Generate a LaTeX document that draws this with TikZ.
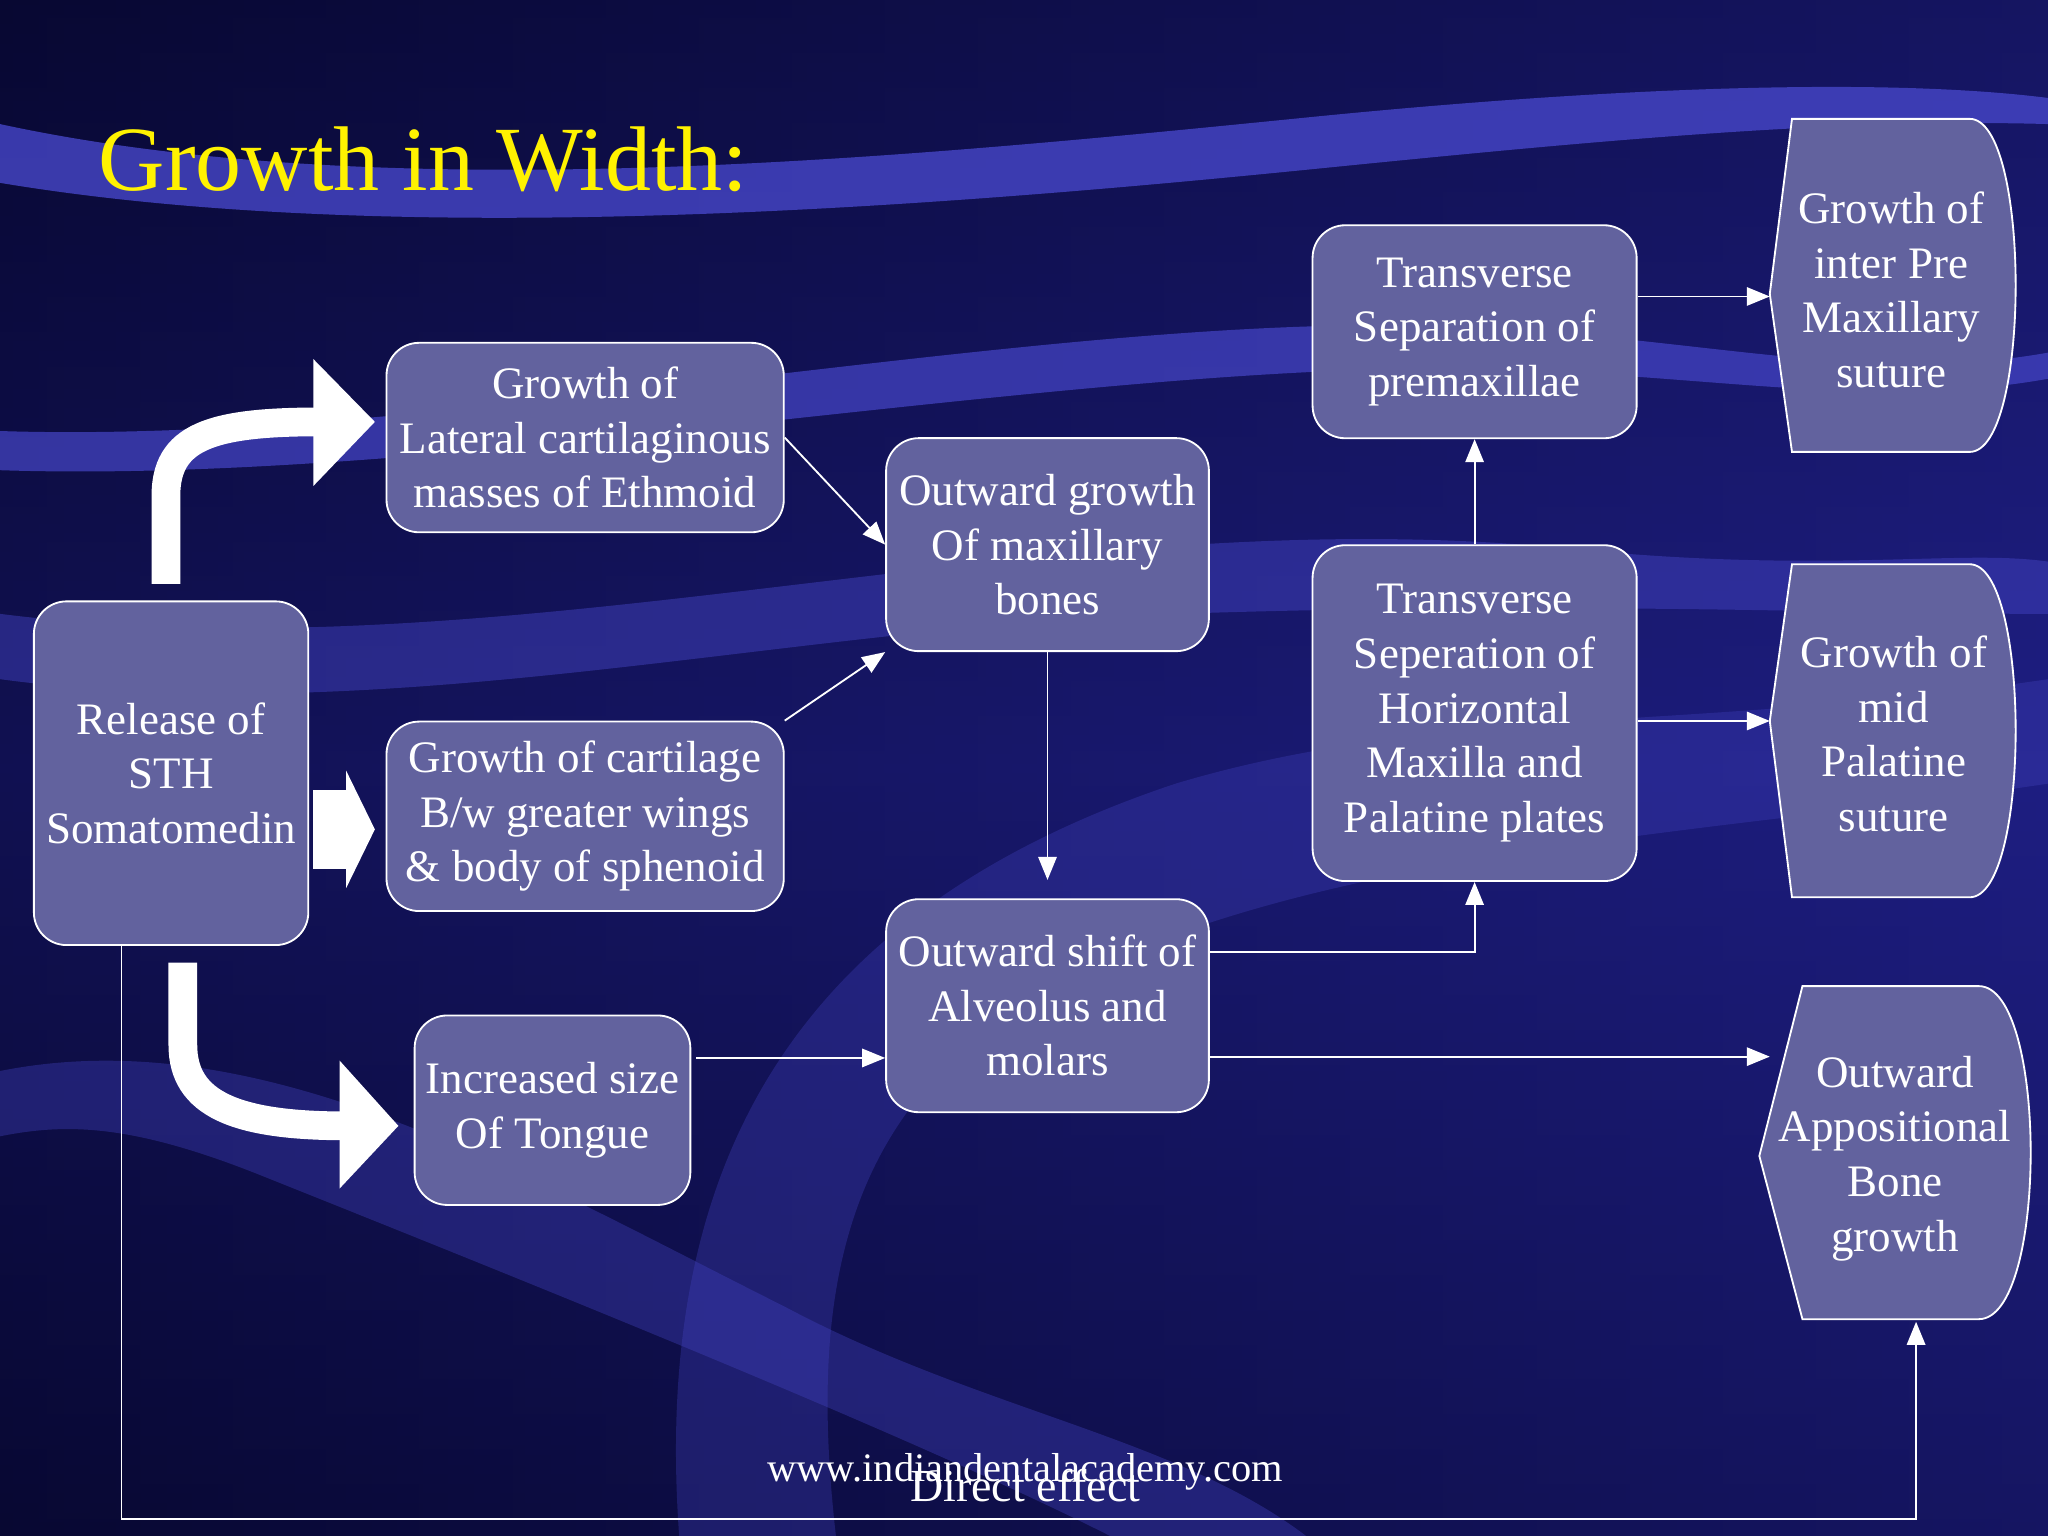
\documentclass[tikz,border=0pt]{standalone}
\usepackage{fontspec}
\setmainfont{Liberation Serif}
\usetikzlibrary{arrows.meta}
\definecolor{bgd}{RGB}{8,8,50}
\definecolor{bgm}{RGB}{30,30,130}
\definecolor{band}{RGB}{70,70,200}
\definecolor{boxf}{RGB}{98,98,158}
\tikzset{
 box/.style={draw=white,fill=boxf,rounded corners=0.25cm,align=center,text=white,font=\fontsize{9.8}{11.9}\selectfont,inner sep=0pt},
 txt/.style={align=center,text=white,font=\fontsize{9.8}{11.9}\selectfont},
 hex/.style={draw=white,fill=boxf},
 con/.style={draw=white,line width=0.4pt,-{Triangle[width=4pt,length=5pt]}},
 fat/.style={draw=white,line width=0.22cm},
 head/.style={fill=white}
}
\begin{document}
\begin{tikzpicture}[x=0.01cm,y=-0.01cm]
\useasboundingbox (0,0) rectangle (1568,1176);
\shade[top color=bgd,bottom color=bgd,middle color=bgm] (0,0) rectangle (1568,1176);
\shade[left color=bgd,right color=bgm,opacity=0.6] (0,0) rectangle (1568,1176);
% ribbons
\fill[band,opacity=0.8] (0,95) .. controls (300,160) and (700,120) .. (1000,90) .. controls (1250,65) and (1450,60) .. (1568,75) -- (1568,95) .. controls (1400,90) and (1200,110) .. (1000,130) .. controls (700,160) and (300,190) .. (0,140) -- cycle;
\fill[band,opacity=0.7] (0,330) .. controls (300,340) and (700,260) .. (1000,250) .. controls (1250,240) and (1400,300) .. (1568,270) -- (1568,290) .. controls (1400,320) and (1250,270) .. (1000,285) .. controls (700,300) and (300,370) .. (0,360) -- cycle;
\fill[band,opacity=0.45] (0,470) .. controls (400,520) and (800,380) .. (1200,420) .. controls (1400,440) and (1500,420) .. (1568,430) -- (1568,470) .. controls (1400,470) and (1200,460) .. (900,470) .. controls (600,480) and (300,560) .. (0,520) -- cycle;
\fill[band,opacity=0.35] (0,820) .. controls (200,780) and (400,900) .. (600,1000) .. controls (750,1080) and (900,1100) .. (1000,1176) -- (850,1176) .. controls (700,1100) and (400,980) .. (200,900) .. controls (100,860) and (50,860) .. (0,870) -- cycle;
\fill[band,opacity=0.3] (520,1176) .. controls (500,900) and (600,700) .. (900,600) .. controls (1100,540) and (1300,560) .. (1568,520) -- (1568,600) .. controls (1300,640) and (1000,650) .. (800,760) .. controls (640,850) and (620,1000) .. (640,1176) -- cycle;
% title
\node[text=yellow,font=\fontsize{20}{24}\selectfont,anchor=west,inner sep=0pt] (title) at (75,122) {Growth in Width:};
% boxes
\node[box,minimum width=2.1cm,minimum height=2.63cm] (rel) at (131,592) {Release of\\ STH\\ Somatomedin};
\node[box,minimum width=3.04cm,minimum height=1.45cm] (lat) at (448,335) {Growth of\\ Lateral cartilaginous\\ masses of Ethmoid};
\node[box,minimum width=3.04cm,minimum height=1.45cm] (cart) at (448,625) {Growth of cartilage\\ B/w greater wings\\ \& body of sphenoid};
\node[box,minimum width=2.11cm,minimum height=1.45cm] (tong) at (423,850) {Increased size\\ Of Tongue};
\node[box,minimum width=2.47cm,minimum height=1.63cm] (og) at (802,417) {Outward growth\\ Of maxillary\\ bones};
\node[box,minimum width=2.47cm,minimum height=1.63cm] (os) at (802,770) {Outward shift of\\ Alveolus and\\ molars};
\node[box,minimum width=2.48cm,minimum height=1.63cm] (tp) at (1129,254) {Transverse\\ Separation of\\ premaxillae};
\node[box,minimum width=2.48cm,minimum height=2.57cm] (th) at (1129,546) {Transverse\\ Seperation of\\ Horizontal\\ Maxilla and\\ Palatine plates};
% hexagon-like shapes
\draw[hex] (1372,91) -- (1508,91) .. controls (1555,91) and (1555,346) .. (1508,346) -- (1372,346) -- (1355,225) -- cycle;
\coordinate (h1) at (1355,227);
\node[txt] (h1t) at (1448,222) {Growth of\\ inter Pre\\ Maxillary\\ suture};
\draw[hex] (1372,432) -- (1508,432) .. controls (1555,432) and (1555,687) .. (1508,687) -- (1372,687) -- (1355,552) -- cycle;
\coordinate (h2) at (1355,552);
\node[txt] (h2t) at (1450,562) {Growth of\\ mid\\ Palatine\\ suture};
\draw[hex] (1380,755) -- (1515,755) .. controls (1568,755) and (1568,1010) .. (1515,1010) -- (1380,1010) -- (1347,885) -- cycle;
\coordinate (h3) at (1355,809);
\coordinate (h3b) at (1467,1012);
\node[txt] (h3t) at (1451,887) {Outward\\ Appositional\\ Bone\\ growth};
% big arrows
\draw[fat] (127,447) -- (127,380) .. controls (127,335) and (160,323) .. (245,323);
\fill[head] (240,275) -- (287,323) -- (240,372) -- cycle;
\fill[head] (240,605) rectangle (265,665);
\fill[head] (265,590) -- (287,635) -- (265,680) -- cycle;
\draw[fat] (140,737) -- (140,800) .. controls (140,845) and (180,862) .. (265,862);
\fill[head] (260,812) -- (305,862) -- (260,910) -- cycle;
% connectors
\draw[con] (lat.east) -- (og.west);
\draw[con] (cart.north east) -- (og.south west);
\draw[con] (og.south) -- ([yshift=4pt]os.north);
\draw[con] (533,810) -- (os.west |- 0,810);
\draw[con] (os.east |- 0,729) -| (th.south);
\draw[con] (os.east |- 0,809) -- (h3);
\draw[con] (th.north) -- (tp.south);
\draw[con] (tp.east |- 0,227) -- (h1);
\draw[con] (th.east |- 0,552) -- (h2);
\draw[con] (93,723) -- (93,1163) -- (1467,1163) -- (h3b);
\node[txt,font=\fontsize{10}{12}\selectfont] (de) at (785,1137) {Direct effect};
\node[txt,font=\fontsize{8.8}{10}\selectfont] (www) at (785,1127) {www.indiandentalacademy.com};
\end{tikzpicture}
\end{document}
